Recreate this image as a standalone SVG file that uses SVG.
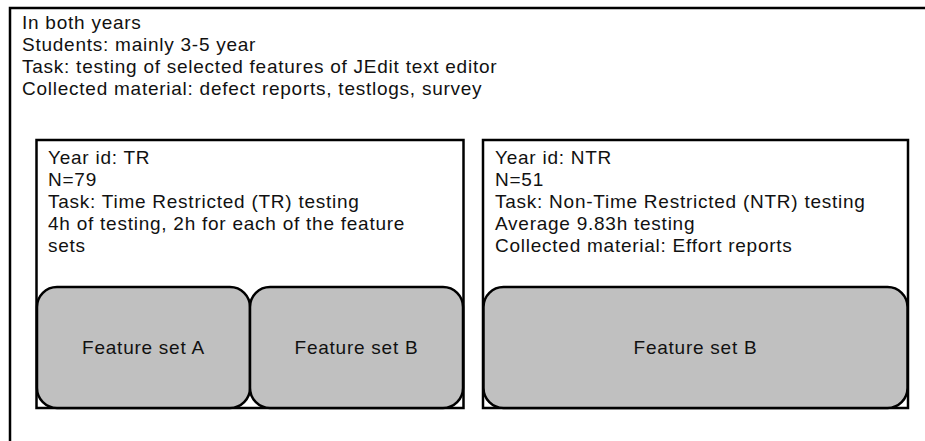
<svg xmlns="http://www.w3.org/2000/svg" width="925" height="441" viewBox="0 0 925 441">
  <style>
    .frame { fill: #ffffff; stroke: #000000; stroke-width: 2.5; }
    .set { fill: #c0c0c0; stroke: #000000; stroke-width: 2.5; }
    text { font-family: "Liberation Sans", Arial, sans-serif; font-size: 19px; letter-spacing: 0.75px; fill: #111111; }
    .mid { text-anchor: middle; }
  </style>
  <rect width="925" height="441" fill="#ffffff"/>

  <!-- outer frame, runs past the right and bottom edges -->
  <g id="study">
    <rect class="frame" x="10" y="8" width="930" height="450"/>
    <text x="22" y="29">In both years</text>
    <text x="22" y="51">Students: mainly 3-5 year</text>
    <text x="22" y="73">Task: testing of selected features of JEdit text editor</text>
    <text x="22" y="95">Collected material: defect reports, testlogs, survey</text>
  </g>

  <g id="year-tr">
    <rect class="frame" x="36.5" y="140" width="427" height="268"/>
    <text x="48" y="164">Year id: TR</text>
    <text x="48" y="186">N=79</text>
    <text x="48" y="208">Task: Time Restricted (TR) testing</text>
    <text x="48" y="230">4h of testing, 2h for each of the feature</text>
    <text x="48" y="252">sets</text>
  </g>
  <g id="tr-set-a">
    <rect class="set" x="37" y="287" width="213" height="121" rx="20" ry="20"/>
    <text class="mid" x="143.5" y="354">Feature set A</text>
  </g>
  <g id="tr-set-b">
    <rect class="set" x="250" y="287" width="213" height="121" rx="20" ry="20"/>
    <text class="mid" x="356.5" y="354">Feature set B</text>
  </g>

  <g id="year-ntr">
    <rect class="frame" x="483" y="140" width="425" height="268"/>
    <text x="495" y="164">Year id: NTR</text>
    <text x="495" y="186">N=51</text>
    <text x="495" y="208">Task: Non-Time Restricted (NTR) testing</text>
    <text x="495" y="230">Average 9.83h testing</text>
    <text x="495" y="252">Collected material: Effort reports</text>
  </g>
  <g id="ntr-set-b">
    <rect class="set" x="483.5" y="287" width="424" height="121" rx="20" ry="20"/>
    <text class="mid" x="695.5" y="354">Feature set B</text>
  </g>

  <g id="connectors"/>
</svg>
